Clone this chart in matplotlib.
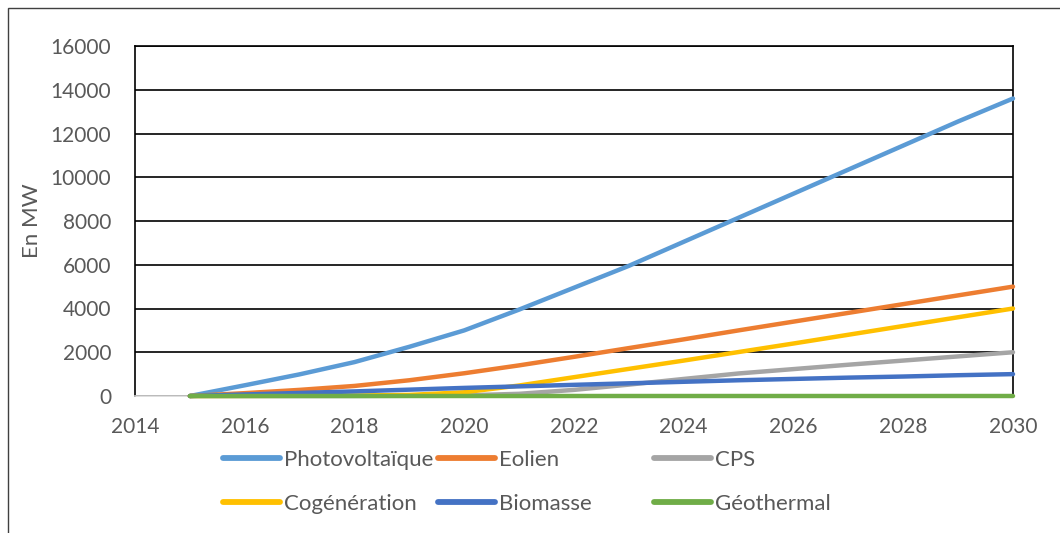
import matplotlib.pyplot as plt
from matplotlib.patches import Rectangle

years = list(range(2015, 2031))

photovoltaique = [0, 490, 990, 1550, 2250, 3000, 3950, 4950, 5950, 7050, 8150, 9250, 10350, 11450, 12550, 13600]
eolien = [0, 130, 280, 460, 720, 1040, 1400, 1790, 2190, 2590, 3000, 3400, 3800, 4200, 4600, 5000]
cps = [0, 0, 0, 0, 10, 30, 100, 280, 520, 780, 1030, 1230, 1430, 1620, 1810, 2000]
cogeneration = [0, 5, 10, 20, 50, 170, 480, 860, 1240, 1620, 2010, 2400, 2800, 3200, 3600, 4000]
biomasse = [0, 70, 140, 210, 290, 370, 440, 510, 580, 650, 720, 780, 840, 890, 950, 1000]
geothermal = [0] * 16

series = [
    ('Photovoltaïque', photovoltaique, '#5B9BD5'),
    ('Eolien', eolien, '#ED7D31'),
    ('CPS', cps, '#A5A5A5'),
    ('Cogénération', cogeneration, '#FFC000'),
    ('Biomasse', biomasse, '#4472C4'),
    ('Géothermal', geothermal, '#70AD47'),
]

plt.rcParams['font.family'] = ['Lato', 'DejaVu Sans']
text_color = '#595959'

fig = plt.figure(figsize=(10.6, 5.33), dpi=100)
ax = fig.add_axes([135 / 1060, 1 - 396 / 533, (1013 - 135) / 1060, 350 / 533])

lines = []
for name, values, color in series:
    line, = ax.plot(years, values, color=color, lw=3.2, solid_capstyle='round',
                    solid_joinstyle='round', label=name, clip_on=False, zorder=3)
    lines.append(line)

ax.set_xlim(2014, 2030)
ax.set_ylim(0, 16000)
ax.set_xticks(range(2014, 2031, 2))
ax.set_yticks(range(0, 16001, 2000))
ax.tick_params(length=0, labelsize=15, labelcolor=text_color)
ax.tick_params(axis='x', pad=15)
ax.tick_params(axis='y', pad=17)
ax.yaxis.grid(True, color='black', lw=1.2)
ax.set_axisbelow(True)
for side in ['left', 'right', 'top']:
    ax.spines[side].set_color('black')
    ax.spines[side].set_linewidth(1.2)
ax.spines['bottom'].set_color('#D9D9D9')
ax.spines['bottom'].set_linewidth(1.2)

ax.set_ylabel('En MW', fontsize=16, color=text_color)
ax.yaxis.set_label_coords(-0.106, 0.5)

# legend: three columns, two rows each
for col in range(3):
    handles = [lines[col], lines[col + 3]]
    leg = fig.legend(handles=handles, loc='upper left',
                     bbox_to_anchor=((214 + col * 215.5) / 1060, 1 - 441 / 533),
                     frameon=False, fontsize=16, labelcolor=text_color,
                     handlelength=2.55, handletextpad=0.18, labelspacing=1.08,
                     borderaxespad=0)
    for h in leg.legend_handles:
        h.set_linewidth(4.2)

fig.patches.append(Rectangle((8 / 1060, -0.1), 1.2, 1.1 - 8 / 533,
                             transform=fig.transFigure, fill=False,
                             edgecolor='#404040', lw=1))

fig.savefig('out.png', dpi=100)
